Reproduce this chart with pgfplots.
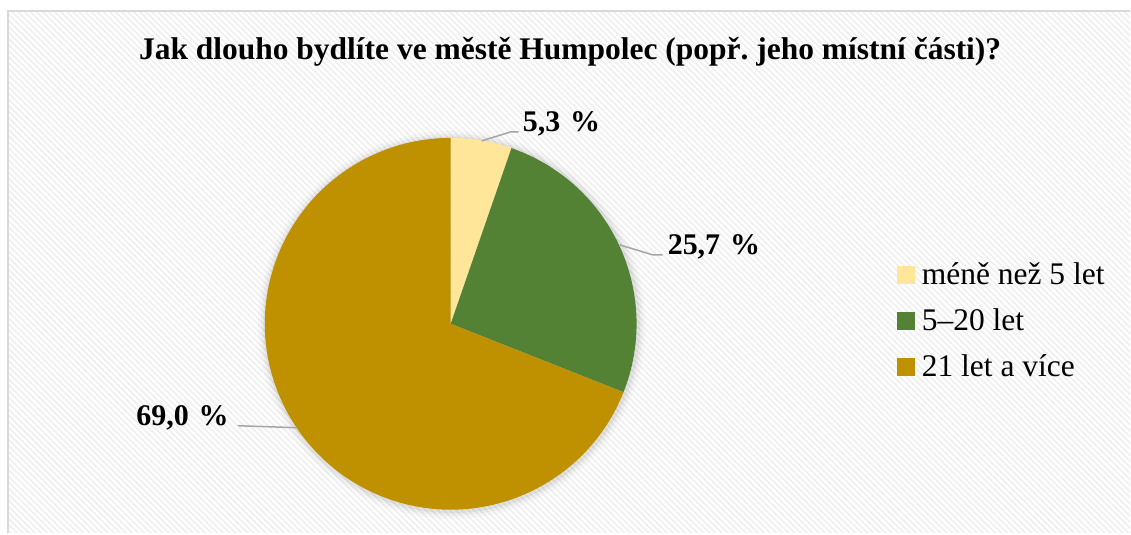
\documentclass[border=0pt]{standalone}
\usepackage{fontspec}
\setmainfont{Liberation Serif}
\usepackage{pgfplots}
\pgfplotsset{compat=1.18}
\usepackage{pgfplotstable}
\usetikzlibrary{patterns.meta}
\frenchspacing

\definecolor{cA}{HTML}{FFE699}
\definecolor{cB}{HTML}{548235}
\definecolor{cC}{HTML}{BF9000}
\definecolor{leader}{HTML}{A6A6A6}
\definecolor{frame}{HTML}{D9D9D9}

\pgfplotstableread{
label value
A 5.3
B 25.7
C 69.0
}\piedata

\pgfplotstablegetelem{0}{value}\of\piedata \let\vA\pgfplotsretval
\pgfplotstablegetelem{1}{value}\of\piedata \let\vB\pgfplotsretval
\pgfplotstablegetelem{2}{value}\of\piedata \let\vC\pgfplotsretval
\pgfmathsetmacro{\aZero}{90}
\pgfmathsetmacro{\aOne}{\aZero-3.6*\vA}
\pgfmathsetmacro{\aTwo}{\aOne-3.6*\vB}
\pgfmathsetmacro{\aThree}{\aTwo-3.6*\vC}
\newcommand{\pct}[1]{\pgfmathprintnumber[fixed,fixed zerofill,precision=1,use comma,assume math mode=true]{#1}\hspace{0.33em}\%}

\begin{document}
\begin{tikzpicture}
\begin{axis}[
  scale only axis, width=1131pt, height=533pt,
  xmin=0, xmax=1131, ymin=0, ymax=533,
  hide axis, clip=false,
  legend style={at={(axis cs:894,274)}, anchor=north west, draw=none, fill=none,
    font=\fontsize{31.5}{36}\selectfont, row sep=18.5pt,
    cells={anchor=west}},
  legend image code/.code={\path[draw=none,fill=none] (0pt,0pt) -- (23pt,0pt);\fill[#1] (0pt,-8.5pt) rectangle (17pt,8.5pt);},
]
% background
\fill[white] (axis cs:0,0) rectangle (axis cs:1131,533);
\fill[pattern={Lines[angle=-45,distance=4.3pt,line width=1.8pt]}, pattern color=black!6]
  (axis cs:8,0) rectangle (axis cs:1131,522);
\draw[frame, line width=1.5pt] (axis cs:8,0) -- (axis cs:8,522) -- (axis cs:1131,522);
% title
\node[anchor=base, inner sep=0pt, font=\fontsize{31.5}{36}\selectfont\bfseries] at (axis cs:570.5,473)
  {Jak dlouho bydlíte ve městě Humpolec (popř. jeho místní části)?};
% shadow
\fill[black, opacity=0.025] (axis cs:452,208) circle[radius=194pt];
\fill[black, opacity=0.035] (axis cs:452,208) circle[radius=191pt];
\fill[black, opacity=0.05] (axis cs:452,208) circle[radius=188.5pt];
% slices
\fill[cA] (axis cs:451,209) -- ++(\aZero:186pt) arc[start angle=\aZero, end angle=\aOne, radius=186pt] -- cycle;
\fill[cB] (axis cs:451,209) -- ++(\aOne:186pt) arc[start angle=\aOne, end angle=\aTwo, radius=186pt] -- cycle;
\fill[cC] (axis cs:451,209) -- ++(\aTwo:186pt) arc[start angle=\aTwo, end angle=\aThree, radius=186pt] -- cycle;
% leader lines
\draw[leader, line width=1.5pt] (axis cs:482,392) -- (axis cs:511,401) -- (axis cs:519,401);
\draw[leader, line width=1.5pt] (axis cs:620,288) -- (axis cs:653,278) -- (axis cs:663,278);
\draw[leader, line width=1.5pt] (axis cs:297,105) -- (axis cs:238,107);
% data labels
\node[anchor=base west, inner sep=0pt, font=\fontsize{30}{34}\selectfont\bfseries] at (axis cs:523,401) {\pct{\vA}};
\node[anchor=base west, inner sep=0pt, font=\fontsize{30}{34}\selectfont\bfseries] at (axis cs:668,278) {\pct{\vB}};
\node[anchor=base east, inner sep=0pt, font=\fontsize{30}{34}\selectfont\bfseries] at (axis cs:229,107) {\pct{\vC}};
% legend
\addlegendimage{cA}\addlegendentry{méně než 5 let}
\addlegendimage{cB}\addlegendentry{5–20 let}
\addlegendimage{cC}\addlegendentry{21 let a více}
\end{axis}
\end{tikzpicture}
\end{document}
